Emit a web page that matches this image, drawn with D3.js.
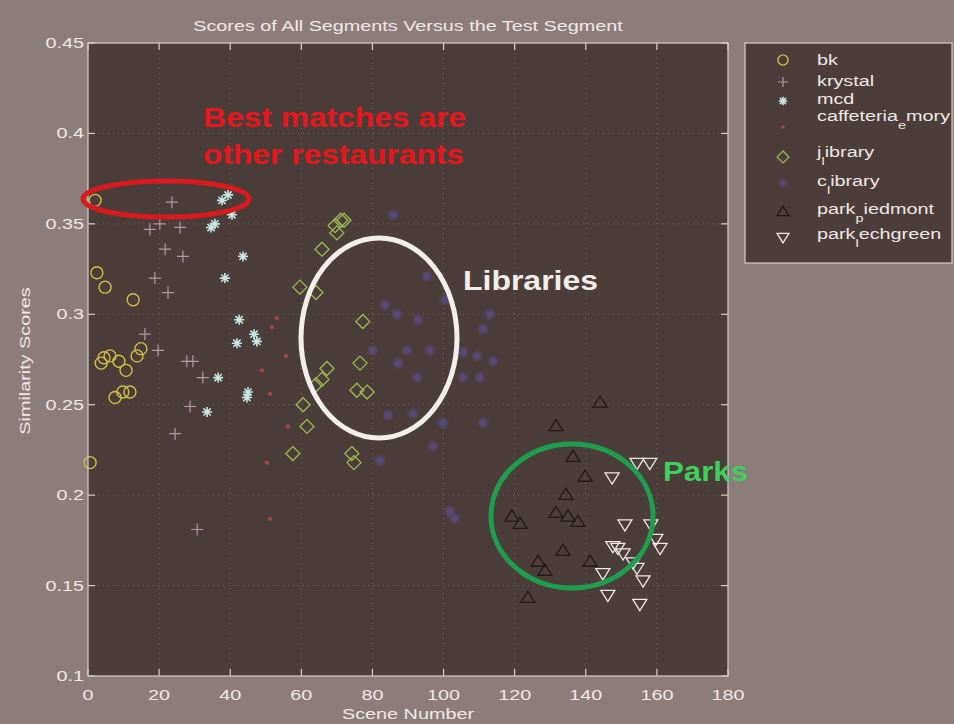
<!DOCTYPE html>
<html>
<head>
<meta charset="utf-8">
<script src="https://cdn.jsdelivr.net/npm/d3@7"></script>
<style>
  html, body { margin: 0; padding: 0; background: #8d7d7a; }
  svg { display: block; }
  text { font-family: "Liberation Sans", Arial, sans-serif; }
</style>
</head>
<body>
<svg id="chart" width="954" height="724"></svg>
<script>
// ---- data: [scene number, similarity score] per segment group ----
const bk = [[2.0,0.363],[2.5,0.323],[4.8,0.315],[12.7,0.308],[3.7,0.273],[4.5,0.276],[6.2,0.277],[8.7,0.274],[10.7,0.269],[13.8,0.277],[14.9,0.281],[7.6,0.254],[9.8,0.257],[11.8,0.257],[0.6,0.218]];
const krystal = [[23.6,0.362],[17.4,0.347],[20.2,0.350],[25.9,0.348],[21.7,0.336],[26.7,0.332],[18.8,0.320],[22.5,0.312],[16.0,0.289],[19.7,0.280],[27.8,0.274],[29.5,0.274],[32.3,0.265],[28.7,0.249],[24.5,0.234],[30.7,0.181]];
const mcd = [[37.7,0.363],[39.4,0.366],[40.5,0.355],[34.6,0.348],[35.7,0.350],[43.6,0.332],[38.5,0.320],[42.5,0.297],[46.7,0.289],[47.5,0.285],[41.9,0.284],[36.6,0.265],[45.0,0.257],[44.7,0.254],[33.5,0.246]];
const caffeteriaEmory = [[51.7,0.293],[55.7,0.277],[53.1,0.298],[51.2,0.256],[56.2,0.238],[50.3,0.218],[51.2,0.187],[48.9,0.269]];
const jLibrary = [[69.5,0.349],[71.1,0.352],[70.0,0.345],[72.0,0.352],[65.8,0.336],[59.6,0.315],[64.1,0.312],[77.3,0.296],[67.2,0.270],[65.8,0.264],[64.1,0.261],[76.5,0.273],[75.6,0.258],[78.5,0.257],[60.5,0.250],[61.6,0.238],[57.6,0.223],[74.2,0.223],[74.8,0.218]];
const cLibrary = [[85.8,0.355],[95.3,0.321],[83.5,0.305],[86.9,0.300],[92.8,0.297],[80.1,0.280],[89.7,0.280],[96.2,0.280],[87.2,0.273],[92.5,0.265],[84.4,0.244],[91.4,0.245],[97.0,0.227],[105.5,0.279],[109.4,0.277],[113.9,0.274],[105.5,0.265],[110.2,0.265],[111.1,0.292],[99.8,0.240],[111.1,0.240],[82.1,0.219],[101.8,0.191],[103.2,0.187],[113.0,0.300],[100.4,0.308]];
const parkPiedmont = [[144.0,0.251],[131.6,0.238],[136.4,0.221],[139.8,0.210],[134.4,0.200],[131.6,0.190],[135.0,0.188],[137.8,0.185],[121.5,0.184],[133.6,0.169],[126.6,0.163],[128.5,0.158],[123.7,0.143],[141.2,0.163],[119.2,0.188]];
const parkLechgreen = [[154.4,0.218],[158.0,0.218],[147.4,0.210],[151.0,0.184],[158.3,0.184],[159.7,0.176],[160.9,0.171],[147.6,0.172],[149.0,0.171],[150.5,0.168],[153.3,0.163],[154.4,0.160],[144.8,0.157],[156.1,0.153],[146.2,0.145],[155.2,0.140]];

const xTicks = [0,20,40,60,80,100,120,140,160,180];
const yTicks = [0.1,0.15,0.2,0.25,0.3,0.35,0.4,0.45];

// legend labels: [main, subscript, rest]
const series = [
  {label:["bk","",""], data: bk, mark:"circle", color:"#d2bf46"},
  {label:["krystal","",""], data: krystal, mark:"plus", color:"#b498a8"},
  {label:["mcd","",""], data: mcd, mark:"star", color:"#c8e6e4"},
  {label:["caffeteria","e","mory"], data: caffeteriaEmory, mark:"dot", color:"#a04444"},
  {label:["j","l","ibrary"], data: jLibrary, mark:"diamond", color:"#9bbb50"},
  {label:["c","l","ibrary"], data: cLibrary, mark:"blob", color:"#58497c"},
  {label:["park","p","iedmont"], data: parkPiedmont, mark:"up", color:"#221a1a"},
  {label:["park","l","echgreen"], data: parkLechgreen, mark:"down", color:"#f0e8e8"}
];

const W = 954, H = 724;
const plot = {left: 88, right: 728, top: 43, bottom: 676};
const WIDE = 1.32;   // horizontal stretch of the figure's lettering
const svg = d3.select("#chart");

const defs = svg.append("defs");
defs.append("filter").attr("id","soft").append("feGaussianBlur").attr("stdDeviation", 1.8);

svg.append("rect").attr("width", W).attr("height", H).attr("fill", "#8d7d7a");

const x = d3.scaleLinear().domain([0,180]).range([plot.left, plot.right]);
const y = d3.scaleLinear().domain([0.1,0.45]).range([plot.bottom, plot.top]);

// text placed at (tx, ty), widened horizontally about its anchor
function wideText(parent, tx, ty, str, opts) {
  const o = opts || {};
  const g = parent.append("g").attr("transform", `translate(${tx},${ty}) scale(${WIDE},1)`);
  return g.append("text").attr("x", 0).attr("y", 0)
    .attr("text-anchor", o.anchor || "start")
    .attr("font-size", o.size || 15)
    .attr("fill", o.fill || "#f0e8e6")
    .text(str);
}

// axes background
svg.append("rect")
  .attr("x", plot.left).attr("y", plot.top)
  .attr("width", plot.right - plot.left).attr("height", plot.bottom - plot.top)
  .attr("fill", "#4b3d39");

// dotted grid
const grid = svg.append("g").attr("stroke", "#9a8a86").attr("stroke-width", 1)
  .attr("stroke-dasharray", "1,4").attr("opacity", 0.5);
grid.selectAll(".gx").data(xTicks.slice(1, -1)).join("line")
  .attr("x1", d => x(d)).attr("x2", d => x(d)).attr("y1", plot.top).attr("y2", plot.bottom);
grid.selectAll(".gy").data(yTicks.slice(1, -1)).join("line")
  .attr("y1", d => y(d)).attr("y2", d => y(d)).attr("x1", plot.left).attr("x2", plot.right);

// marker shapes
function drawMark(g, mark, color, cx, cy, scale) {
  const s = scale || 1;
  if (mark === "circle") {
    g.append("circle").attr("cx", cx).attr("cy", cy).attr("r", 6*s)
      .attr("fill", "none").attr("stroke", color).attr("stroke-width", 1.4);
  } else if (mark === "plus") {
    g.append("path").attr("d", `M${cx-6*s},${cy}H${cx+6*s}M${cx},${cy-6*s}V${cy+6*s}`)
      .attr("stroke", color).attr("stroke-width", 1.2).attr("fill", "none");
  } else if (mark === "star") {
    const r = 5*s, k = r*0.72;
    g.append("path").attr("d",
      `M${cx-r},${cy}H${cx+r}M${cx},${cy-r}V${cy+r}M${cx-k},${cy-k}L${cx+k},${cy+k}M${cx-k},${cy+k}L${cx+k},${cy-k}`)
      .attr("stroke", color).attr("stroke-width", 1.6).attr("fill", "none");
  } else if (mark === "dot") {
    g.append("circle").attr("cx", cx).attr("cy", cy).attr("r", 2.2*s).attr("fill", color);
  } else if (mark === "blob") {
    g.append("circle").attr("cx", cx).attr("cy", cy).attr("r", 4.5*s).attr("fill", color)
      .attr("filter", "url(#soft)");
  } else if (mark === "diamond") {
    const r = 7*s;
    g.append("path").attr("d", `M${cx},${cy-r}L${cx+r},${cy}L${cx},${cy+r}L${cx-r},${cy}Z`)
      .attr("stroke", color).attr("stroke-width", 1.3).attr("fill", "none");
  } else if (mark === "up") {
    const r = 7*s;
    g.append("path").attr("d", `M${cx},${cy-r}L${cx+r},${cy+r*0.6}L${cx-r},${cy+r*0.6}Z`)
      .attr("stroke", color).attr("stroke-width", 1.3).attr("fill", "none");
  } else if (mark === "down") {
    const r = 7*s;
    g.append("path").attr("d", `M${cx},${cy+r}L${cx+r},${cy-r*0.6}L${cx-r},${cy-r*0.6}Z`)
      .attr("stroke", color).attr("stroke-width", 1.3).attr("fill", "none");
  }
}

const marks = svg.append("g");
series.forEach(sr => {
  const g = marks.append("g").attr("class", "series");
  sr.data.forEach(d => drawMark(g, sr.mark, sr.color, x(d[0]), y(d[1])));
});

// axes frame and inward ticks
const frame = svg.append("g").attr("stroke", "#d8cfcc").attr("stroke-width", 1.2).attr("fill", "none");
frame.append("rect").attr("x", plot.left).attr("y", plot.top)
  .attr("width", plot.right - plot.left).attr("height", plot.bottom - plot.top);
xTicks.forEach(t => {
  frame.append("line").attr("x1", x(t)).attr("x2", x(t)).attr("y1", plot.bottom).attr("y2", plot.bottom - 7);
  frame.append("line").attr("x1", x(t)).attr("x2", x(t)).attr("y1", plot.top).attr("y2", plot.top + 7);
});
yTicks.forEach(t => {
  frame.append("line").attr("y1", y(t)).attr("y2", y(t)).attr("x1", plot.left).attr("x2", plot.left + 7);
  frame.append("line").attr("y1", y(t)).attr("y2", y(t)).attr("x1", plot.right).attr("x2", plot.right - 7);
});

// tick labels
const tickG = svg.append("g");
xTicks.forEach(t => wideText(tickG, x(t), plot.bottom + 24, String(t), {anchor: "middle", size: 15}));
yTicks.forEach(t => wideText(tickG, plot.left - 4, y(t) + 5, String(+t.toFixed(2)), {anchor: "end", size: 15}));

// title and axis titles
wideText(svg, 408, 31, "Scores of All Segments Versus the Test Segment", {anchor: "middle", size: 15});
wideText(svg, 408, 719, "Scene Number", {anchor: "middle", size: 15});
svg.append("g").attr("transform", "translate(30,361) rotate(-90) scale(1.32,1)")
  .append("text").attr("text-anchor", "middle").attr("font-size", 15).attr("fill", "#f0e8e6")
  .text("Similarity Scores");

// annotations
svg.append("ellipse").attr("cx", 166).attr("cy", 199).attr("rx", 83).attr("ry", 18)
  .attr("fill", "none").attr("stroke", "#d61a1e").attr("stroke-width", 5);
svg.append("text").attr("x", 203).attr("y", 127).attr("font-size", 27).attr("font-weight", "bold")
  .attr("fill", "#e5161c").attr("textLength", 263).attr("lengthAdjust", "spacingAndGlyphs")
  .text("Best matches are");
svg.append("text").attr("x", 203).attr("y", 164).attr("font-size", 27).attr("font-weight", "bold")
  .attr("fill", "#e5161c").attr("textLength", 261).attr("lengthAdjust", "spacingAndGlyphs")
  .text("other restaurants");

svg.append("ellipse").attr("cx", 379).attr("cy", 338).attr("rx", 78).attr("ry", 100)
  .attr("fill", "none").attr("stroke", "#f2eeea").attr("stroke-width", 5);
svg.append("text").attr("x", 463).attr("y", 290).attr("font-size", 28).attr("font-weight", "bold")
  .attr("fill", "#f2eeea").attr("textLength", 135).attr("lengthAdjust", "spacingAndGlyphs")
  .text("Libraries");

svg.append("ellipse").attr("cx", 572).attr("cy", 516).attr("rx", 81).attr("ry", 72)
  .attr("fill", "none").attr("stroke", "#1f9e4e").attr("stroke-width", 5);
svg.append("text").attr("x", 663).attr("y", 481).attr("font-size", 27).attr("font-weight", "bold")
  .attr("fill", "#3fcf5e").attr("textLength", 85).attr("lengthAdjust", "spacingAndGlyphs")
  .text("Parks");

// legend
const leg = svg.append("g");
leg.append("rect").attr("x", 745).attr("y", 43).attr("width", 207).attr("height", 220)
  .attr("fill", "#4b3d39").attr("stroke", "#d8cfcc").attr("stroke-width", 1.2);
// [marker y, text baseline y] per entry
const legRows = [[60,65],[82,86],[101,104],[127,121],[157,157],[183,186],[212,214],[237,239]];
series.forEach((sr, i) => {
  const [my, ty] = legRows[i];
  drawMark(leg, sr.mark, sr.color, 783, my, 0.85);
  const t = wideText(leg, 817, ty, "", {size: 15});
  t.append("tspan").text(sr.label[0]);
  if (sr.label[1]) {
    t.append("tspan").attr("dy", 8).attr("font-size", 11).text(sr.label[1]);
    t.append("tspan").attr("dy", -8).text(sr.label[2]);
  }
});
</script>
</body>
</html>
